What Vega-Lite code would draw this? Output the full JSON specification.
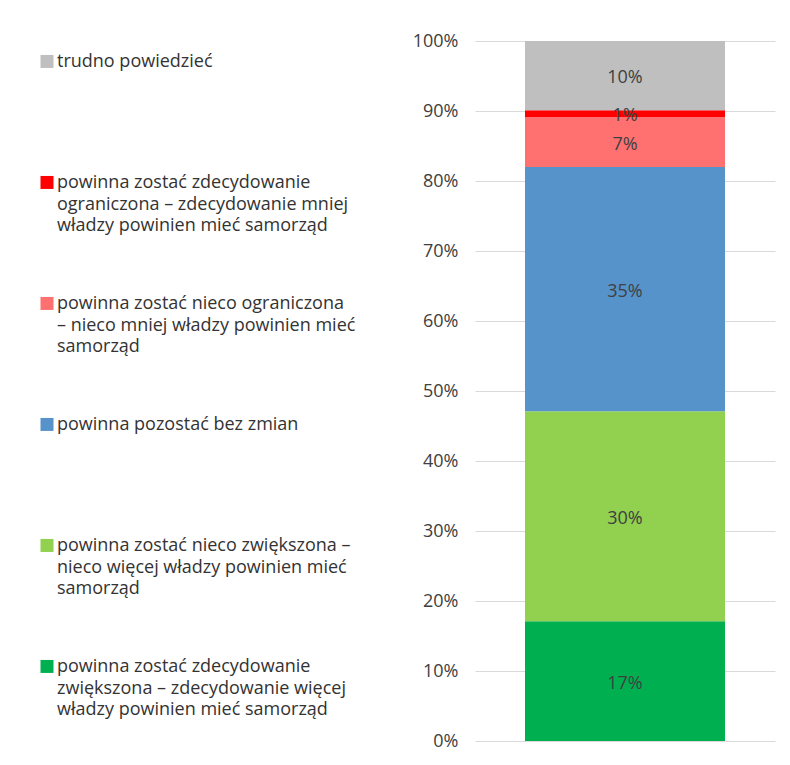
{
  "$schema": "https://vega.github.io/schema/vega-lite/v6.json",
  "width": 300,
  "height": 700,
  "autosize": {"type": "none"},
  "padding": {"left": 475, "top": 41, "right": 15, "bottom": 24},
  "config": {
    "view": {"stroke": null},
    "font": "Open Sans",
    "style": {"guide-label": {"lineHeight": 21.5}}
  },
  "data": {
    "values": [
      {"category": "powinna zostać zdecydowanie\nzwiększona – zdecydowanie więcej\nwładzy powinien mieć samorząd", "value": 17.1, "label": "17%", "rank": 1},
      {"category": "powinna zostać nieco zwiększona –\nnieco więcej władzy powinien mieć\nsamorząd", "value": 30.0, "label": "30%", "rank": 2},
      {"category": "powinna pozostać bez zmian", "value": 34.9, "label": "35%", "rank": 3},
      {"category": "powinna zostać nieco ograniczona\n– nieco mniej władzy powinien mieć\nsamorząd", "value": 7.1, "label": "7%", "rank": 4},
      {"category": "powinna zostać zdecydowanie\nograniczona – zdecydowanie mniej\nwładzy powinien mieć samorząd", "value": 1.0, "label": "1%", "rank": 5},
      {"category": "trudno powiedzieć", "value": 9.9, "label": "10%", "rank": 6}
    ]
  },
  "encoding": {
    "x": {"datum": "a", "type": "nominal", "scale": {"paddingInner": 0, "paddingOuter": 0.25}, "axis": null}
  },
  "layer": [
    {
      "mark": {"type": "bar"},
      "encoding": {
        "y": {
          "field": "value",
          "type": "quantitative",
          "stack": "zero",
          "scale": {"domain": [0, 100], "nice": false},
          "axis": {
            "title": null,
            "values": [0, 10, 20, 30, 40, 50, 60, 70, 80, 90, 100],
            "labelExpr": "datum.value + '%'",
            "labelFontSize": 18,
            "labelColor": "#404040",
            "labelPadding": 17,
            "domain": false,
            "ticks": false,
            "grid": true,
            "gridColor": "#d9d9d9",
            "gridWidth": 1.2
          }
        },
        "order": {"field": "rank", "type": "quantitative"},
        "color": {
          "field": "category",
          "type": "nominal",
          "scale": {
            "domain": [
              "trudno powiedzieć",
              "powinna zostać zdecydowanie\nograniczona – zdecydowanie mniej\nwładzy powinien mieć samorząd",
              "powinna zostać nieco ograniczona\n– nieco mniej władzy powinien mieć\nsamorząd",
              "powinna pozostać bez zmian",
              "powinna zostać nieco zwiększona –\nnieco więcej władzy powinien mieć\nsamorząd",
              "powinna zostać zdecydowanie\nzwiększona – zdecydowanie więcej\nwładzy powinien mieć samorząd"
            ],
            "range": ["#bfbfbf", "#ff0000", "#ff7171", "#5793cb", "#92d050", "#00b050"]
          },
          "legend": {
            "title": null,
            "orient": "none",
            "legendX": -437,
            "legendY": 3,
            "direction": "vertical",
            "symbolType": "M-1,0.3H1V2.3H-1Z",
            "symbolSize": 169,
            "symbolStrokeWidth": 0,
            "symbolOpacity": 1,
            "labelFontSize": 18,
            "labelColor": "#333333",
            "labelExpr": "split(datum.label, '\\n')",
            "labelLimit": 400,
            "labelOffset": 1,
            "labelBaseline": "top",
            "gridAlign": "all",
            "rowPadding": 51
          }
        }
      }
    },
    {
      "transform": [
        {"stack": "value", "groupby": [], "sort": [{"field": "rank"}], "as": ["v0", "v1"]},
        {"calculate": "(datum.v0 + datum.v1) / 2", "as": "mid"}
      ],
      "mark": {"type": "text", "fontSize": 18, "color": "#404040", "dy": 2.5},
      "encoding": {
        "y": {"field": "mid", "type": "quantitative"},
        "text": {"field": "label"}
      }
    }
  ]
}
